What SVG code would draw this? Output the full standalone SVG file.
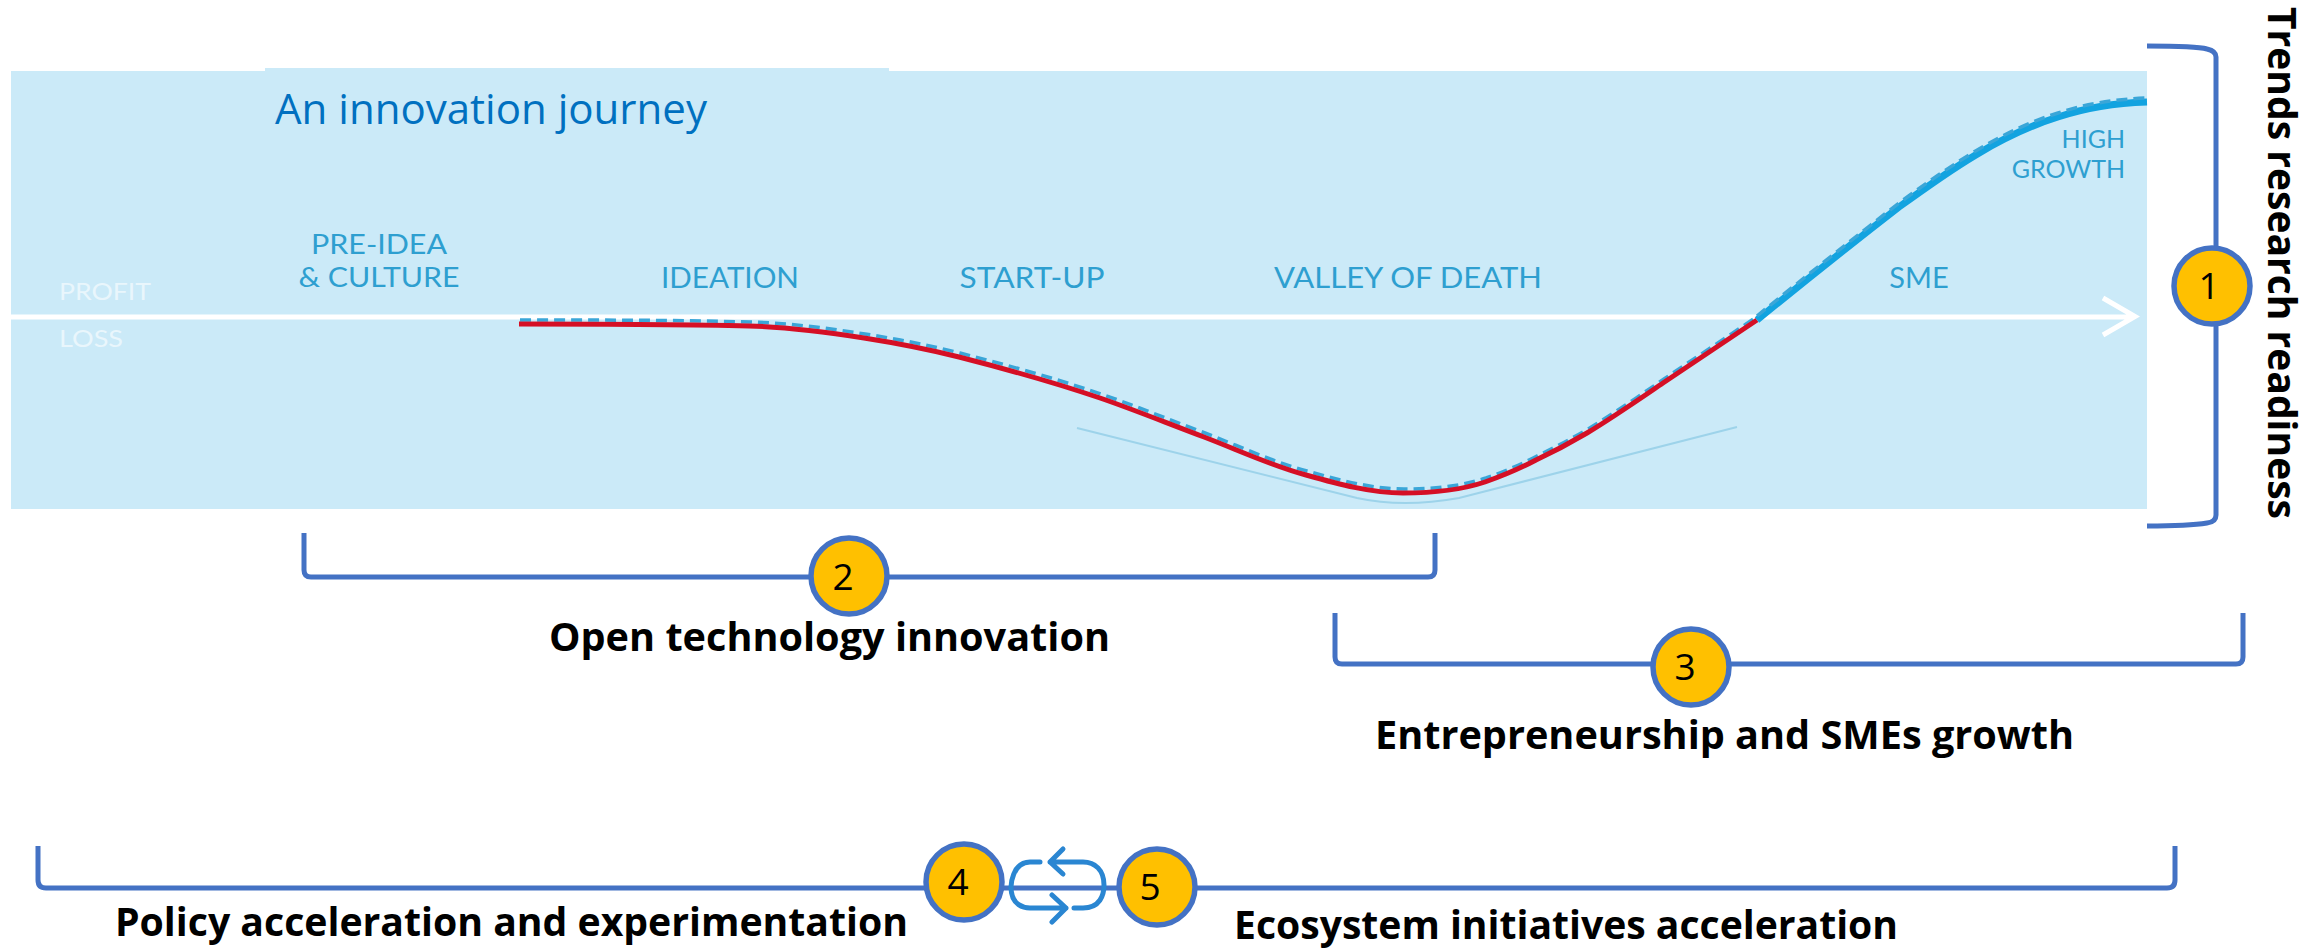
<svg xmlns="http://www.w3.org/2000/svg" xmlns:xlink="http://www.w3.org/1999/xlink" width="2323" height="949" viewBox="0 0 2323 949">
<style>
.lbl{font-family:"Open Sans","Liberation Sans",sans-serif;font-weight:700;font-size:39.500px;fill:#000}
.num{font-family:"Open Sans","Liberation Sans",sans-serif;font-size:37px;fill:#000;text-anchor:middle}
.stage{font-family:Lato,"Open Sans",sans-serif;font-size:29px;fill:#2e9fd0;text-anchor:middle}
.tight{font-size:27px}
.small{font-size:25px;text-anchor:end}
.pl{font-family:Lato,"Open Sans",sans-serif;font-size:23px;fill:#e9f6fc}
.br{fill:none;stroke:#4472c4;stroke-width:5}
.badge{fill:#ffc000;stroke:#4472c4;stroke-width:5.500}
.cyc{fill:none;stroke:#2a86d2;stroke-width:5;stroke-linecap:round;stroke-linejoin:round}
.dash{fill:none;stroke:#3aa6d8;stroke-width:3.500;stroke-dasharray:11 6}
</style>
<defs>
<path id="loss" d="M519 324C596 324 672 324 749 326C787 327 826 332 864 338C896 343 927 349 959 357C1006 369 1053 382 1100 398C1135 410 1169 424 1204 437C1238 450 1272 466 1306 475C1338 484 1371 493 1403 493C1430 493 1458 491 1485 482C1502 476 1519 469 1536 460C1553 452 1570 443 1587 433C1612 418 1638 400 1663 383C1694 362 1726 341 1757 320"/>
<path id="gain" d="M1757 320C1800 285 1850 245 1899 207C1950 170 2000 135 2058 117C2085 108 2115 103 2147 102"/>
</defs>
<g id="panel">
<rect x="11" y="71" width="2136" height="438" fill="#cbeaf8"/>
<rect x="265" y="68" width="624" height="4" fill="#cbeaf8"/>
<text x="275" y="124" font-family="'Open Sans',sans-serif" font-size="42" fill="#0070c0" textLength="432" lengthAdjust="spacingAndGlyphs">An innovation journey</text>
<text class="pl" x="59" y="300" textLength="92" lengthAdjust="spacingAndGlyphs">PROFIT</text>
<text class="pl" x="59" y="347" textLength="64" lengthAdjust="spacingAndGlyphs">LOSS</text>
<text class="stage tight" x="379" y="254" textLength="136" lengthAdjust="spacingAndGlyphs">PRE-IDEA</text>
<text class="stage tight" x="379" y="287" textLength="161" lengthAdjust="spacingAndGlyphs">&amp; CULTURE</text>
<text class="stage" x="730" y="288" textLength="138" lengthAdjust="spacingAndGlyphs">IDEATION</text>
<text class="stage" x="1032" y="288" textLength="145" lengthAdjust="spacingAndGlyphs">START-UP</text>
<text class="stage" x="1408" y="288" textLength="268" lengthAdjust="spacingAndGlyphs">VALLEY OF DEATH</text>
<text class="stage" x="1919" y="288">SME</text>
<text class="stage small" x="2125" y="148">HIGH</text>
<text class="stage small" x="2125" y="178">GROWTH</text>
</g>
<g id="journey-curve">
<path d="M11 317H2133M2103 298L2135 316.500L2103 335" fill="none" stroke="#fff" stroke-width="5"/>
<path d="M1077 428L1357 498Q1403 508 1459 498L1737 427" fill="none" stroke="#9dd3ea" stroke-width="2"/>
<use xlink:href="#loss" class="dash" transform="translate(1 -4)"/>
<use xlink:href="#loss" fill="none" stroke="#d50f25" stroke-width="5"/>
<use xlink:href="#gain" fill="none" stroke="#12a3e0" stroke-width="7"/>
<use xlink:href="#gain" class="dash" transform="translate(0 -4)"/>
</g>
<g id="connectors">
<path class="br" d="M2147 46C2175 46 2200 47 2207 49Q2216 51 2216 57V515Q2216 522 2207 523C2195 525 2170 526 2147 526"/>
<path class="br" d="M304 533V570Q304 577 311 577H1428Q1435 577 1435 570V533"/>
<path class="br" d="M1335 613V657Q1335 664 1342 664H2236Q2243 664 2243 657V613"/>
<path class="br" d="M38 846V880Q38 888 46 888H2167Q2175 888 2175 880V846"/>
</g>
<g id="node-1"><circle class="badge" cx="2212" cy="286" r="38"/><text class="num" x="2209" y="299">1</text></g>
<g id="node-2"><circle class="badge" cx="849" cy="576" r="38"/><text class="num" x="843" y="590">2</text></g>
<g id="node-3"><circle class="badge" cx="1691" cy="667" r="38"/><text class="num" x="1685" y="680">3</text></g>
<g id="node-4"><circle class="badge" cx="964" cy="882" r="38"/><text class="num" x="958" y="895">4</text></g>
<g id="node-5"><circle class="badge" cx="1157" cy="887" r="38"/><text class="num" x="1150" y="900">5</text></g>
<g id="cycle-arrows">
<path class="cyc" d="M1040 862H1030C1012 862 1011 886 1011 887C1011 906 1025 908 1030 908H1066M1052 895L1066 908L1052 922"/>
<path class="cyc" d="M1074 908H1083C1100 908 1104 895 1104 885C1104 870 1095 862 1083 862H1050M1063 849L1050 862L1063 874"/>
</g>
<g id="labels">
<text class="lbl" x="549" y="651" textLength="561" lengthAdjust="spacingAndGlyphs">Open technology innovation</text>
<text class="lbl" x="1375" y="749" textLength="699" lengthAdjust="spacingAndGlyphs">Entrepreneurship and SMEs growth</text>
<text class="lbl" x="115" y="936" textLength="793" lengthAdjust="spacingAndGlyphs">Policy acceleration and experimentation</text>
<text class="lbl" x="1234" y="939" textLength="664" lengthAdjust="spacingAndGlyphs">Ecosystem initiatives acceleration</text>
<text class="lbl" transform="translate(2268 7) rotate(90)" textLength="512" lengthAdjust="spacingAndGlyphs">Trends research readiness</text>
</g>
</svg>
